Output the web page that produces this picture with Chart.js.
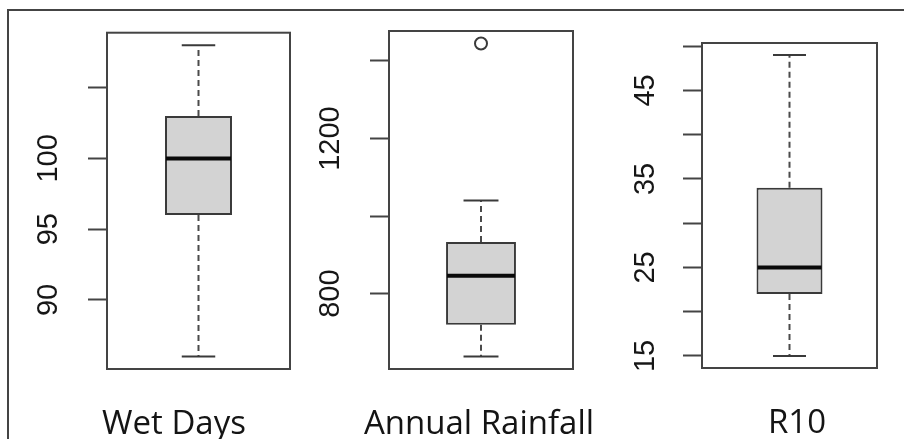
<!DOCTYPE html>
<html lang="en">
<head>
<meta charset="UTF-8">
<title>Box plots</title>
<script src="https://cdn.jsdelivr.net/npm/chart.js"></script>
<style>
    body {
        margin: 0;
        background: #ffffff;
    }

    #wrap {
        position: relative;
        width: 904px;
        height: 439px;
        overflow: hidden;
    }

    /* thin frame round the whole figure, only top and left are visible */
    #frame {
        position: absolute;
        left: 7px;
        top: 9px;
        width: 920px;
        height: 450px;
        border-top: 2px solid #444;
        border-left: 2px solid #444;
    }

    .panel {
        position: absolute;
        top: 0;
        height: 439px;
    }
</style>
</head>
<body>
<div id="wrap">
    <div id="frame"></div>
    <div class="panel" style="left:0px;width:300px"><canvas id="c0" width="300" height="439"></canvas></div>
    <div class="panel" style="left:300px;width:300px"><canvas id="c1" width="300" height="439"></canvas></div>
    <div class="panel" style="left:600px;width:304px"><canvas id="c2" width="304" height="439"></canvas></div>
</div>

<script>
    // values
    const names = ['Wet Days', 'Annual Rainfall', 'R10'];
    const lowerWhisker = [86, 638, 15];
    const lowerQuartile = [96, 720, 22];
    const medians = [100, 846, 25];
    const upperQuartile = [103, 933, 34];
    const upperWhisker = [108, 1040, 49];
    const outliers = [[], [1445], []];
    const tickSteps = [5, 200, 5];
    const labelledTicks = [[90, 95, 100], [800, 1200], [15, 25, 35, 45]];

    // where each panel sits on its canvas
    const panels = [
        { yAxisWidth: 107, padRight: 10, padTop: 31, xAxisHeight: 70, labelCenter: 48.5, labelOffset: -24.5, barPct: 0.366 },
        { yAxisWidth: 89, padRight: 27, padTop: 31, xAxisHeight: 70, labelCenter: 31, labelOffset: -2, barPct: 0.38 },
        { yAxisWidth: 102, padRight: 27, padTop: 43, xAxisHeight: 71, labelCenter: 46, labelOffset: 7.5, barPct: 0.377 }
    ];

    const tickFont = { family: '"Liberation Sans", Arial, sans-serif', size: 29 };
    const nameFont = { family: '"Open Sans", sans-serif', size: 33 };
    const tickLen = 19;

    const measureCtx = document.createElement('canvas').getContext('2d');
    measureCtx.font = tickFont.size + 'px ' + tickFont.family;

    // whiskers, staples, median and the plot frame
    const boxExtras = {
        id: 'boxExtras',
        afterDatasetsDraw(chart, args, opts) {
            const i = opts.index;
            const y = chart.scales.y;
            const bar = chart.getDatasetMeta(0).data[0];
            const ctx = chart.ctx;
            const cx = bar.x;
            const half = bar.width / 2;
            const line = (x1, y1, x2, y2) => {
                ctx.beginPath();
                ctx.moveTo(x1, y1);
                ctx.lineTo(x2, y2);
                ctx.stroke();
            };

            ctx.save();
            ctx.strokeStyle = '#4a4a4a';
            ctx.lineWidth = 2;
            ctx.setLineDash([6, 4]);
            line(cx, y.getPixelForValue(upperQuartile[i]), cx, y.getPixelForValue(upperWhisker[i]));
            line(cx, y.getPixelForValue(lowerQuartile[i]), cx, y.getPixelForValue(lowerWhisker[i]));
            ctx.setLineDash([]);

            ctx.strokeStyle = '#3a3a3a';
            line(cx - half / 2, y.getPixelForValue(upperWhisker[i]), cx + half / 2, y.getPixelForValue(upperWhisker[i]));
            line(cx - half / 2, y.getPixelForValue(lowerWhisker[i]), cx + half / 2, y.getPixelForValue(lowerWhisker[i]));

            ctx.strokeStyle = '#0a0a0a';
            ctx.lineWidth = 4;
            line(cx - half + 1, y.getPixelForValue(medians[i]), cx + half - 1, y.getPixelForValue(medians[i]));

            const a = chart.chartArea;
            ctx.strokeStyle = '#444';
            ctx.lineWidth = 2;
            ctx.strokeRect(a.left, a.top, a.right - a.left, a.bottom - a.top);
            ctx.restore();
        }
    };

    names.forEach((name, i) => {
        const L = panels[i];
        const allValues = [lowerWhisker[i], upperWhisker[i]].concat(outliers[i]);
        const lo = Math.min(...allValues);
        const hi = Math.max(...allValues);
        const ext = (hi - lo) * 0.04;   // R's default 4% axis extension

        const widest = Math.max(...labelledTicks[i].map(v => measureCtx.measureText(String(v)).width));
        const tickPad = L.yAxisWidth - tickLen - L.labelCenter - widest / 2;

        new Chart(document.getElementById('c' + i), {
            type: 'bar',
            data: {
                labels: [name],
                datasets: [
                    {
                        data: [[lowerQuartile[i], upperQuartile[i]]],
                        backgroundColor: '#d3d3d3',
                        borderColor: '#3a3a3a',
                        borderWidth: 2,
                        borderSkipped: false,
                        categoryPercentage: 1,
                        barPercentage: L.barPct
                    },
                    {
                        type: 'line',
                        data: outliers[i].map(v => ({ x: name, y: v })),
                        showLine: false,
                        pointRadius: 6,
                        pointBorderWidth: 2,
                        pointBorderColor: '#3a3a3a',
                        pointBackgroundColor: 'rgba(0,0,0,0)'
                    }
                ]
            },
            options: {
                responsive: false,
                animation: false,
                layout: {
                    autoPadding: false,
                    padding: { left: 0, right: L.padRight, top: L.padTop, bottom: 0 }
                },
                plugins: {
                    legend: { display: false },
                    tooltip: { enabled: false },
                    boxExtras: { index: i }
                },
                scales: {
                    x: {
                        type: 'category',
                        grid: { display: false, drawTicks: false },
                        border: { display: false },
                        ticks: {
                            font: nameFont,
                            color: '#141414',
                            padding: 36,
                            labelOffset: L.labelOffset,
                            autoSkip: false,
                            maxRotation: 0
                        },
                        // the long names may spill past the plot, do not shrink the plot for them
                        afterFit: s => {
                            s.height = L.xAxisHeight;
                            s.paddingLeft = 0;
                            s.paddingRight = 0;
                        }
                    },
                    y: {
                        type: 'linear',
                        min: lo - ext,
                        max: hi + ext,
                        grid: { drawOnChartArea: false, drawTicks: true, tickLength: tickLen, tickWidth: 2, tickColor: '#444' },
                        border: { display: false },
                        ticks: {
                            stepSize: tickSteps[i],
                            includeBounds: false,
                            autoSkip: false,
                            minRotation: 90,
                            maxRotation: 90,
                            crossAlign: 'center',
                            padding: tickPad,
                            font: tickFont,
                            color: '#161616',
                            callback: v => labelledTicks[i].includes(v) ? String(v) : ''
                        },
                        afterFit: s => { s.width = L.yAxisWidth; }
                    }
                }
            },
            plugins: [boxExtras]
        });
    });
</script>
</body>
</html>
